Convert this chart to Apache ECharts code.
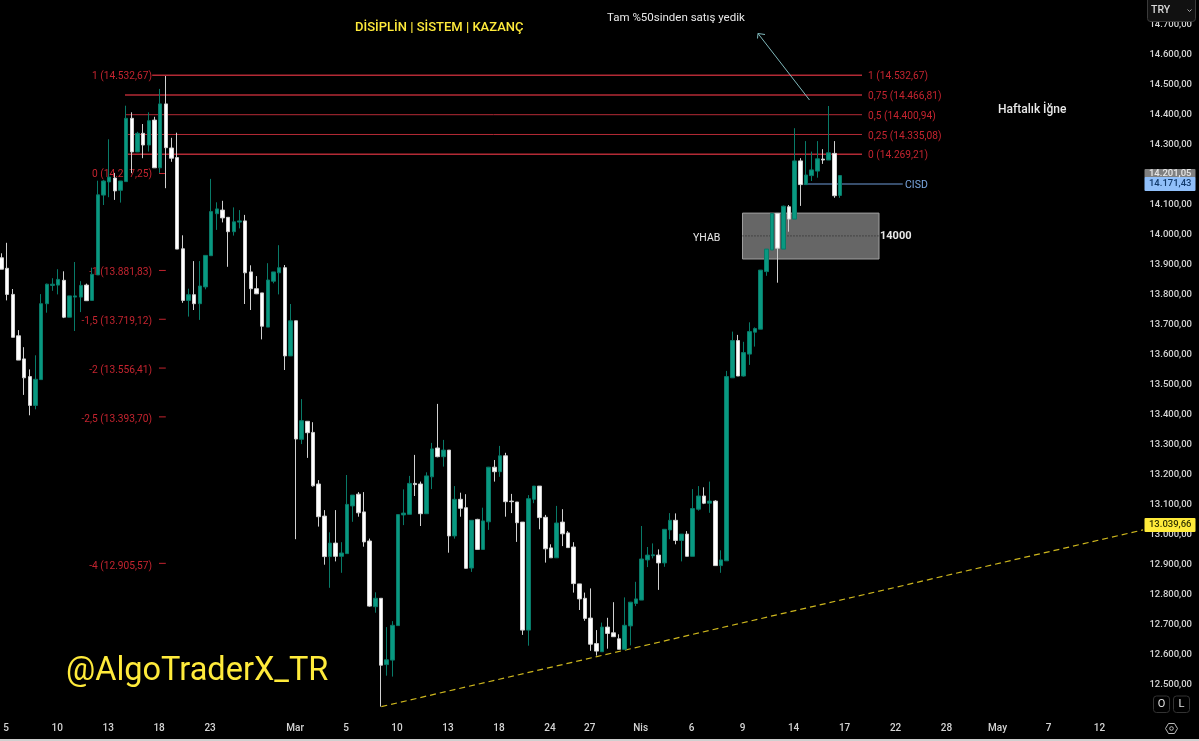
<!DOCTYPE html>
<html>
<head>
<meta charset="utf-8">
<title>TRY</title>
<style>
  html, body { margin: 0; padding: 0; background: #000; }
  #chart { width: 1199px; height: 741px; }
</style>
<script src="https://cdn.jsdelivr.net/npm/echarts@6/dist/echarts.min.js"></script>
</head>
<body>
<div id="chart"></div>
<script>
// fiyatlar
const opens = [
  13924,13889,13802,13664,13587,13528,13432,13518,13771,13832,
  13833,13849,13726,13793,13793,13833,13782,13867,14133,14177,
  14190,14149,14178,14389,14277,14339,14300,14383,14224,14437,
  14290,14258,13954,13782,13801,13771,13827,13931,14071,14083,
  14059,14011,14043,14047,13877,13821,13807,13693,13846,13874,
  13891,13597,13714,13319,13379,13342,13170,13063,12928,12973,
  12929,12938,13097,13136,13077,12980,12761,12789,12568,12583,
  12698,13067,13069,13172,13170,13071,13194,13290,13261,13283,
  12997,13119,13091,12890,13052,12952,13044,13226,13211,13264,
  13113,13110,13043,12683,13119,13163,13059,12957,12924,13043,
  13007,12960,12837,12789,12723,12638,12611,12693,12674,12654,
  12619,12697,12772,12783,12917,12931,12933,12907,13017,13049,
  12982,13003,12929,13086,13130,13106,13113,12898,12914,13524,
  13648,13530,13603,13676,13686,13878,13950,14072,13953,14094,
  14053,14247,14168,14198,14213,14253,14250,14272,14132
];
const closes = [
  13886,13802,13659,13583,13524,13432,13519,13771,13836,13836,
  13852,13726,13797,13797,13832,13781,13869,14134,14180,14193,
  14147,14180,14389,14277,14339,14300,14381,14224,14437,14291,
  14256,13953,13782,13801,13771,13830,13932,14078,14087,14057,
  14011,14044,14047,13874,13821,13804,13696,13850,13877,13891,
  13597,13714,13320,13381,13341,13164,13061,12928,12973,12929,
  12940,13102,13133,13074,12977,12763,12789,12566,12584,12699,
  13068,13073,13172,13168,13071,13197,13287,13261,13283,12997,
  13119,13089,12889,13049,12952,13047,13226,13211,13264,13111,
  13111,13041,12683,13121,13163,13058,12954,12924,13040,13004,
  12958,12838,12787,12722,12636,12613,12693,12672,12661,12619,
  12699,12776,12787,12920,12933,12934,12907,13019,13049,12982,
  13003,12929,13088,13130,13106,13113,12898,12917,13528,13648,
  13530,13608,13678,13688,13883,13953,14072,13956,14096,14053,
  14247,14168,14200,14217,14254,14250,14274,14131,14198
];
const lows = [
  13886,13782,13659,13583,13467,13399,13419,13518,13741,13814,
  13802,13723,13726,13680,13743,13780,13782,13867,14100,14126,
  14117,14108,14178,14206,14277,14256,14278,14224,14207,14156,
  14244,13953,13774,13728,13750,13717,13819,13931,14017,14042,
  13894,13998,14022,13770,13750,13803,13652,13693,13839,13802,
  13550,13597,12986,13303,13257,13161,13028,12901,12824,12912,
  12874,12938,13044,13061,12961,12761,12741,12428,12531,12528,
  12698,13033,13069,13130,13030,13071,13153,13259,13228,12941,
  12988,13061,12888,12877,12951,12952,13017,13178,13194,13061,
  13073,12977,12667,12631,13106,13019,12908,12924,12924,12963,
  12958,12808,12750,12714,12614,12598,12611,12621,12660,12619,
  12619,12632,12763,12783,12893,12922,12817,12894,12986,12969,
  12912,12929,12929,13081,13103,13074,12898,12874,12914,13524,
  13530,13528,13567,13628,13686,13864,13950,13841,13953,14011,
  14053,14097,14168,14180,14191,14237,14250,14124,14124
];
const highs = [
  13939,13974,13820,13683,13626,13552,13599,13803,13838,13856,
  13886,13879,13797,13910,13846,13838,13891,14181,14183,14319,
  14207,14180,14431,14409,14344,14370,14409,14394,14487,14530,
  14324,14341,13999,13821,13913,13913,13932,14187,14109,14114,
  14060,14092,14083,14067,13899,13863,13807,13906,13877,13966,
  13900,13770,13714,13453,13380,13376,13183,13083,13009,13083,
  12976,13200,13133,13143,13143,12988,12809,12790,12693,12713,
  13068,13152,13197,13267,13178,13209,13307,13437,13317,13283,
  13163,13141,13136,13049,13054,13091,13227,13250,13297,13274,
  13137,13110,13043,13133,13163,13163,13067,12969,13097,13086,
  13013,12976,12837,12808,12822,12683,12708,12724,12776,12669,
  12792,12777,12844,13030,12960,12972,12952,13019,13073,13072,
  13003,13013,13153,13163,13159,13178,13116,12949,13547,13678,
  13667,13644,13709,13692,13883,13953,14072,14073,14098,14100,
  14356,14256,14313,14278,14313,14286,14430,14313,14198
];

const barCount = 202;
const priceMin = 12400, priceMax = 14800, priceStep = 100;

// alt eksen: mum sirasi -> etiket
const tickBars = [1,10,19,28,37,52,61,70,79,88,97,104,113,122,131,140,149,158,167,176,185,194];
const tickLabels = ['5','10','13','18','23','Mar','5','10','13','18','24','27','Nis','6','9','14','17','22','28','May','7','12'];

// fib seviyeleri
const fibValues = [14532.67, 14466.81, 14400.94, 14335.08, 14269.21];
const fibStarts = [27.1, 22.3, 22.3, 22.3, 22.3];
const fibWidths = [1.5, 1.5, 1, 1, 1.3];
const fibEnd = 152.4;
const fibRightLabels = ['1 (14.532,67)','0,75 (14.466,81)','0,5 (14.400,94)','0,25 (14.335,08)','0 (14.269,21)'];

// sol taraftaki kisa cizgiler
const fibExtValues = [14205, 13881.83, 13719.12, 13556.41, 13393.7, 12905.57];
const fibExtLabels = ['0 (14.217,25)','-1 (13.881,83)','-1,5 (13.719,12)','-2 (13.556,41)','-2,5 (13.393,70)','-4 (12.905,57)'];

const trendPoints = [[67.55, 12428], [202, 13017]];
const cisdPoints = [[142.1, 14170], [159.6, 14170]];
const yhabRange = { x: [131.3, 155.4], y: [13920, 14073], mid: 13997 };

const UP = '#089981', DOWN = '#ffffff', RED = '#c4242f', YELLOW = '#ffeb3b';
const FONT = 'Roboto, "Noto Sans", sans-serif';

const categories = [];
for (let i = 0; i < barCount; i++) categories.push(String(i));

const candles = opens.map((o, i) => [o, closes[i], lows[i], highs[i]]);

function lineOn(data, color, type, width) {
  return {
    type: 'line', xAxisIndex: 1, data: data, symbol: 'none', silent: true, z: 3,
    animation: false,
    lineStyle: { color: color, width: width || 1, type: type || 'solid' }
  };
}

const annotationSeries = [];
fibValues.forEach((v, i) => {
  annotationSeries.push(lineOn([[fibStarts[i], v], [fibEnd, v]], '#b32a35', 'solid', fibWidths[i]));
});
fibExtValues.forEach((v) => {
  annotationSeries.push(lineOn([[28.3, v], [29.5, v]], RED));
});
annotationSeries.push(lineOn(trendPoints, '#cdb61d', [6, 4], 1.2));
annotationSeries.push(lineOn(cisdPoints, '#6f9bd8'));

// YHAB kutusu
const yhabBox = {
  type: 'line', xAxisIndex: 1, data: [], symbol: 'none', silent: true, z: 1,
  markArea: {
    silent: true,
    itemStyle: { color: '#666666', borderColor: '#a0a0a0', borderWidth: 1 },
    data: [[{ xAxis: yhabRange.x[0], yAxis: yhabRange.y[1] }, { xAxis: yhabRange.x[1], yAxis: yhabRange.y[0] }]]
  }
};
const yhabMid = lineOn([[yhabRange.x[0], yhabRange.mid], [yhabRange.x[1], yhabRange.mid]], '#222222', [1, 2]);
yhabMid.z = 1;

function txt(x, y, text, fill, size, opt) {
  return Object.assign({
    type: 'text', x: x, y: y + 1, silent: true,
    style: Object.assign({
      text: text, fill: fill, font: (opt && opt.weight || 'normal') + ' ' + size + 'px ' + FONT,
      align: 'left', verticalAlign: 'middle'
    }, opt && opt.style)
  }, opt && opt.el);
}
function tag(y0, y1, bg, label, fg) {
  return [
    { type: 'rect', shape: { x: 1144.5, y: y0, width: 51, height: y1 - y0, r: 1 }, style: { fill: bg }, z: 20 },
    { type: 'text', x: 1191.5, y: (y0 + y1) / 2, z: 21, style: { text: label, fill: fg, font: '500 9.5px ' + FONT, align: 'right', verticalAlign: 'middle' } }
  ];
}

const elements = [];
// fib etiketleri (mumlarin arkasinda kalir)
[75, 173, 271, 320, 369, 418, 565].forEach((y, i) => {
  const label = i === 0 ? fibRightLabels[0] : fibExtLabels[i - 1];
  elements.push(txt(152, y, label, RED, 10.2, { style: { align: 'right' } }));
});
[75, 95, 115, 135, 154].forEach((y, i) => {
  elements.push(txt(868, y, fibRightLabels[i], RED, 10.2));
});

elements.push(
  txt(355, 27, 'DİSİPLİN | SİSTEM | KAZANÇ', YELLOW, 13, { weight: '500' }),
  txt(607, 17, 'Tam %50sinden satış yedik', '#e8e8e8', 11.5),
  txt(998, 109, 'Haftalık İğne', '#e8e8e8', 12, { weight: '500' }),
  txt(905, 184, 'CISD', '#7aa7e0', 10.5),
  txt(693, 237, 'YHAB', '#e8e8e8', 10.5),
  txt(880, 235, '14000', '#e8e8e8', 11, { weight: '700' }),
  txt(66, 671, '@AlgoTraderX_TR', YELLOW, 32.5),
  // ok
  { type: 'polyline', shape: { points: [[809.5, 100], [758, 33.5]] }, style: { stroke: '#7fb8bb', lineWidth: 1, fill: null }, z: 6 },
  { type: 'polyline', shape: { points: [[757.5, 38.5], [758, 33.5], [765, 34.5]] }, style: { stroke: '#7fb8bb', lineWidth: 1, fill: null }, z: 6 },
  // TRY dugmesi
  { type: 'rect', shape: { x: 1147.5, y: -3, width: 48, height: 24.5, r: 3 }, style: { fill: '#111111', stroke: '#3a3a3a', lineWidth: 1 }, z: 20 },
  { type: 'text', x: 1151, y: 10.5, z: 21, style: { text: 'TRY', fill: '#d8d8d8', font: '500 10.5px ' + FONT, verticalAlign: 'middle' } },
  { type: 'polyline', shape: { points: [[1187.5, 9.5], [1189.5, 11.5], [1191.5, 9.5]] }, style: { stroke: '#aaaaaa', lineWidth: 1, fill: null }, z: 21 },
  // O L dugmeleri
  { type: 'rect', shape: { x: 1153.5, y: 696, width: 16, height: 16.5, r: 3 }, style: { fill: '#000', stroke: '#333', lineWidth: 1 }, z: 20 },
  { type: 'rect', shape: { x: 1173.5, y: 696, width: 16, height: 16.5, r: 3 }, style: { fill: '#000', stroke: '#333', lineWidth: 1 }, z: 20 },
  { type: 'text', x: 1161.5, y: 704.5, z: 21, style: { text: 'O', fill: '#e0e0e0', font: '11px ' + FONT, align: 'center', verticalAlign: 'middle' } },
  { type: 'text', x: 1181.5, y: 704.5, z: 21, style: { text: 'L', fill: '#e0e0e0', font: '11px ' + FONT, align: 'center', verticalAlign: 'middle' } },
  // ayar simgesi
  { type: 'polygon', shape: { points: [[1165.5, 728.5], [1168.5, 723.5], [1174.5, 723.5], [1177.5, 728.5], [1174.5, 733.5], [1168.5, 733.5]] }, style: { stroke: '#bbbbbb', lineWidth: 1, fill: null }, z: 20 },
  { type: 'circle', shape: { cx: 1171.5, cy: 728.5, r: 1.8 }, style: { stroke: '#bbbbbb', lineWidth: 1, fill: null }, z: 20 },
  // alt kenar
  { type: 'rect', shape: { x: 0, y: 739, width: 1199, height: 2 }, style: { fill: '#d0d0d0' }, z: 20 }
);
elements.push(...tag(169, 178, '#808080', '14.201,05', '#e6e6e6'));
elements.push(...tag(177, 191, '#90bff9', '14.171,43', '#123a6b'));
elements.push(...tag(518, 532, YELLOW, '13.039,66', '#333300'));

const chart = echarts.init(document.getElementById('chart'));
chart.setOption({
  backgroundColor: '#000000',
  animation: false,
  grid: { left: -1.33, top: -5, width: 1144.33, height: 720, containLabel: false, outerBoundsMode: 'none' },
  xAxis: [
    {
      type: 'category',
      data: categories,
      boundaryGap: true,
      axisLine: { show: false },
      axisTick: { show: false },
      splitLine: { show: false },
      axisLabel: {
        color: '#d4d4d4', fontFamily: FONT, fontSize: 10, fontWeight: 500, margin: 8,
        padding: [0, 2, 0, 0],
        interval: (i) => tickBars.includes(i),
        formatter: (v, i) => {
          const k = tickBars.indexOf(i);
          return k < 0 ? '' : tickLabels[k];
        }
      }
    },
    { type: 'value', min: 0, max: barCount, show: false }
  ],
  yAxis: {
    type: 'value',
    position: 'right',
    min: priceMin,
    max: priceMax,
    interval: priceStep,
    axisLine: { show: false },
    axisTick: { show: false },
    splitLine: { show: false },
    axisLabel: {
      color: '#d4d4d4', fontFamily: FONT, fontSize: 9.5, fontWeight: 500, align: 'right', margin: 49,
      padding: [4, 0, 0, 0],
      formatter: (v) => (v === priceMin || v === priceMax) ? '' : String(v).replace(/(\d{2})(\d{3})/, '$1.$2') + ',00'
    }
  },
  graphic: { elements: elements },
  series: [
    {
      type: 'candlestick',
      data: candles,
      barWidth: 4,
      z: 5,
      itemStyle: { color: UP, color0: DOWN, borderColor: '#087a68', borderColor0: '#d0d0d0', borderWidth: 1 }
    },
    yhabBox,
    yhabMid
  ].concat(annotationSeries)
});

window.addEventListener('resize', () => chart.resize());
</script>
</body>
</html>
